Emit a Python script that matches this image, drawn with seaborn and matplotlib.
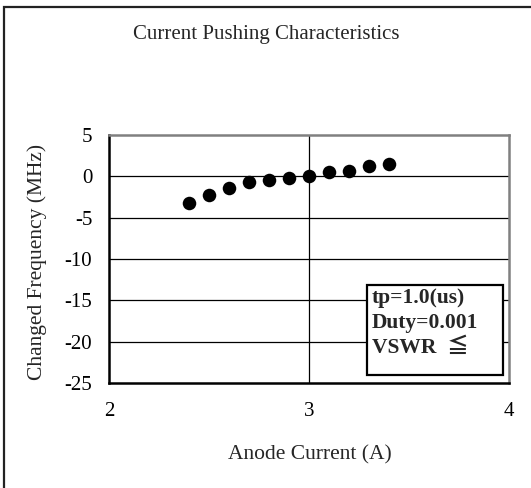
import matplotlib
matplotlib.use("Agg")
import matplotlib.pyplot as plt
import seaborn as sns
import pandas as pd
from matplotlib.patches import Rectangle

anode_current = [2.4, 2.5, 2.6, 2.7, 2.8, 2.9, 3.0, 3.1, 3.2, 3.3, 3.4]
changed_freq = [-3.2, -2.3, -1.4, -0.7, -0.45, -0.2, 0.0, 0.5, 0.7, 1.2, 1.45]
x_ticks = [2, 3, 4]
y_ticks = [5, 0, -5, -10, -15, -20, -25]
title = "Current Pushing Characteristics"
xlabel = "Anode Current (A)"
ylabel = "Changed Frequency (MHz)"
note_lines = ["tp=1.0(us)", "Duty=0.001", "VSWR  \u2266"]

sns.set_theme(style="white")
serif = ["Liberation Serif", "DejaVu Serif", "Noto Sans CJK JP"]
plt.rcParams["font.family"] = serif

W, H = 531, 488
fig = plt.figure(figsize=(W / 100, H / 100), dpi=100)
L, R, T, B = 109, 509, 135, 383
ax = fig.add_axes([L / W, 1 - B / H, (R - L) / W, (B - T) / H])

df = pd.DataFrame({"x": anode_current, "y": changed_freq})
sns.scatterplot(data=df, x="x", y="y", ax=ax, s=95, color="black",
                edgecolor="black", linewidth=0, zorder=3)

ax.set_xlim(2, 4)
ax.set_ylim(-25, 5)
ax.set_xticks(x_ticks)
ax.set_yticks(y_ticks)
ax.set_xticklabels([str(t) for t in x_ticks])
ax.set_yticklabels([str(t) for t in y_ticks])
ax.tick_params(axis="both", labelsize=15, colors="black", length=0)
ax.tick_params(axis="y", pad=12)
ax.tick_params(axis="x", pad=14)
ax.set_xlabel("")
ax.set_ylabel("")

for yv in y_ticks:
    if -25 < yv < 5:
        ax.axhline(yv, color="black", lw=0.9, zorder=1)
ax.axvline(3, color="black", lw=0.9, zorder=1)

for side in ["left", "bottom"]:
    ax.spines[side].set_color("black")
    ax.spines[side].set_linewidth(1.8)
for side in ["right", "top"]:
    ax.spines[side].set_color("#808080")
    ax.spines[side].set_linewidth(1.8)

fig.text(266 / W, 1 - 35 / H, title, ha="center", va="center", fontsize=15)
fig.text(310 / W, 1 - 455 / H, xlabel, ha="center", va="center", fontsize=15.5)
fig.text(37 / W, 1 - 262 / H, ylabel, ha="center", va="center", rotation=90, fontsize=15.5)

# annotation box
bx0, by0, bx1, by1 = 367, 285, 503, 375
fig.patches.append(Rectangle((bx0 / W, 1 - by1 / H), (bx1 - bx0) / W, (by1 - by0) / H,
                             transform=fig.transFigure, facecolor="white",
                             edgecolor="black", lw=1.6, zorder=5))
for i, line in enumerate(note_lines):
    fig.text(372 / W, 1 - (298 + 25 * i) / H, line, ha="left", va="center",
             fontsize=15.5, fontweight="bold", family=serif, zorder=6)

# outer frame
fig.patches.append(Rectangle((4 / W, -0.1), 1.2, 1.1 - 7 / H,
                             transform=fig.transFigure, facecolor="none",
                             edgecolor="#222222", lw=1.6, zorder=0))

fig.savefig("out.png", dpi=100)
